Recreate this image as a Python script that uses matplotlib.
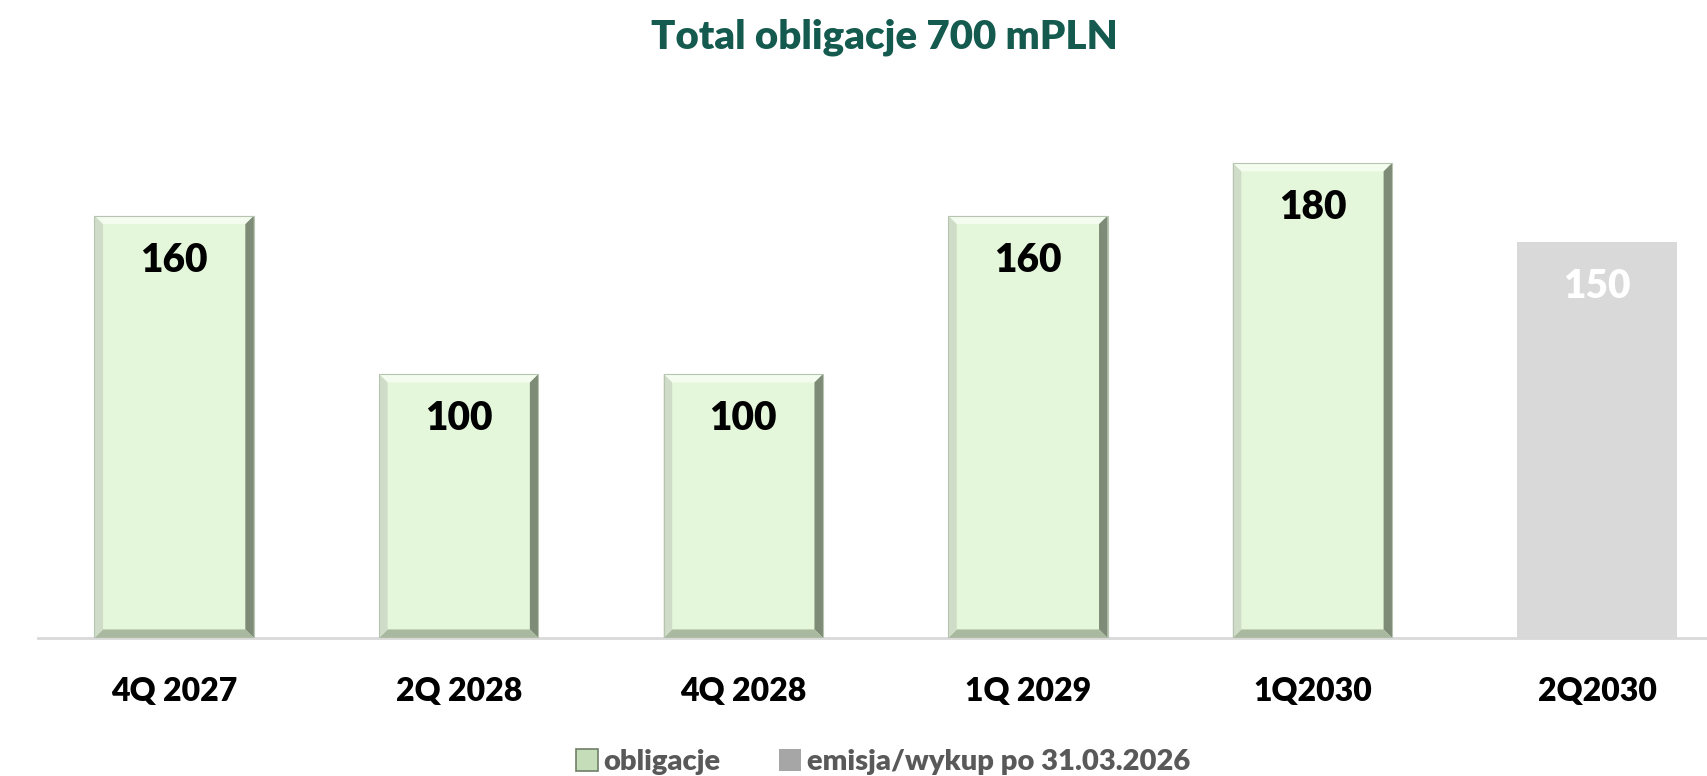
import matplotlib.pyplot as plt
from matplotlib.patches import Patch, Polygon

categories = ['4Q 2027', '2Q 2028', '4Q 2028', '1Q 2029', '1Q2030', '2Q2030']
values = [160, 100, 100, 160, 180, 150]
series = ['obligacje', 'obligacje', 'obligacje', 'obligacje', 'obligacje', 'emisja']
legend_labels = ['obligacje', 'emisja/wykup po 31.03.2026']

green = '#E4F7DA'
grey = '#D9D9D9'
font = 'Lato'

fig = plt.figure(figsize=(17.08, 7.76), dpi=100)
ax = fig.add_axes([0.022, 0.178, 0.978, 0.68])

x = list(range(len(categories)))
width = 0.56
colors = [green if s == 'obligacje' else grey for s in series]
bars = ax.bar(x, values, width=width, color=colors, zorder=2)

ax.set_xlim(-0.48, 5.39)
ax.set_ylim(0, 200)

# bevel effect on the green bars
bx = 0.03
by = 3.2
for b, s in zip(bars, series):
    if s != 'obligacje':
        continue
    x0, y0 = b.get_x(), b.get_y()
    x1, y1 = x0 + b.get_width(), y0 + b.get_height()
    sides = [
        ([(x0, y1), (x1, y1), (x1 - bx, y1 - by), (x0 + bx, y1 - by)], '#F4FCF0'),
        ([(x1, y1), (x1, y0), (x1 - bx, y0 + by), (x1 - bx, y1 - by)], '#7E8C77'),
        ([(x0, y0), (x1, y0), (x1 - bx, y0 + by), (x0 + bx, y0 + by)], '#A9B9A0'),
        ([(x0, y0), (x0, y1), (x0 + bx, y1 - by), (x0 + bx, y0 + by)], '#CFDCC8'),
    ]
    for pts, c in sides:
        ax.add_patch(Polygon(pts, closed=True, facecolor=c, edgecolor='none', zorder=3))
    ax.add_patch(Polygon([(x0, y0), (x1, y0), (x1, y1), (x0, y1)], closed=True,
                         fill=False, edgecolor='#B8C4B2', linewidth=0.8, zorder=4))

for b, v, s in zip(bars, values, series):
    ax.text(b.get_x() + b.get_width() / 2, v - 17, str(v), ha='center', va='center',
            fontsize=28, fontweight='heavy', family=font,
            color='black' if s == 'obligacje' else 'white', zorder=5)

for sp in ['top', 'right', 'left']:
    ax.spines[sp].set_visible(False)
ax.spines['bottom'].set_color('#D9D9D9')
ax.spines['bottom'].set_linewidth(2)
ax.set_yticks([])
ax.set_xticks(x)
ax.set_xticklabels(categories, fontsize=23, fontweight='heavy', family=font)
ax.tick_params(axis='x', length=0, pad=28)

fig.text(0.518, 0.952, 'Total obligacje 700 mPLN', ha='center', va='center',
         fontsize=29, fontweight='heavy', family=font, color='#145A4E')

handles = [Patch(facecolor='#C5DDB8', edgecolor='#6F7F68', linewidth=1.2),
           Patch(facecolor='#A6A6A6', edgecolor='none')]
fig.legend(handles, legend_labels, loc='center', bbox_to_anchor=(0.517, 0.018),
           ncol=2, frameon=False, handlelength=0.75, handleheight=0.75,
           handletextpad=0.2, columnspacing=2.0,
           prop={'family': font, 'weight': 'heavy', 'size': 21},
           labelcolor='#595959')

fig.savefig('out.png', dpi=100)
